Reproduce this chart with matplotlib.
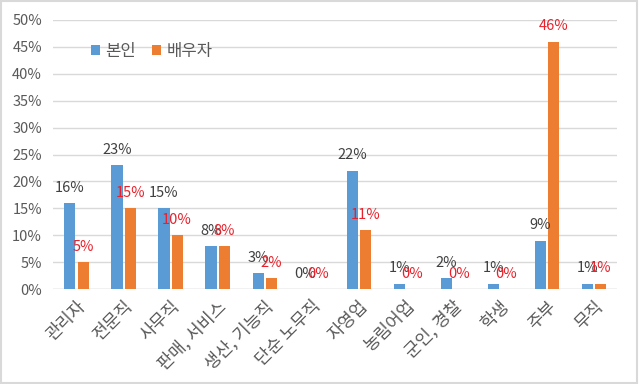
import matplotlib
matplotlib.use("Agg")
import matplotlib.pyplot as plt
import numpy as np
from matplotlib.patches import Rectangle

plt.rcParams['font.family'] = ['Noto Sans CJK KR', 'DejaVu Sans']

categories = ['관리자', '전문직', '사무직', '판매, 서비스', '생산, 기능직', '단순 노무직',
              '자영업', '농림어업', '군인, 경찰', '학생', '주부', '무직']
self_vals = [16, 23, 15, 8, 3, 0, 22, 1, 2, 1, 9, 1]
spouse_vals = [5, 15, 10, 8, 2, 0, 11, 0, 0, 0, 46, 1]
series_names = ['본인', '배우자']
yticks = [0, 5, 10, 15, 20, 25, 30, 35, 40, 45, 50]

blue = '#5b9bd5'
orange = '#ed7d31'

fig = plt.figure(figsize=(6.39, 3.84), dpi=100)
fig.patches.append(Rectangle((0.002, 0.003), 0.995, 0.994, transform=fig.transFigure,
                             fill=False, edgecolor='#d9d9d9', linewidth=1.5))
ax = fig.add_axes([0.083, 0.247, 0.883, 0.701])

x = np.arange(len(categories))
w = 0.235
off = 0.14
ax.bar(x - off, self_vals, w, color=blue, label=series_names[0], zorder=3)
ax.bar(x + off, spouse_vals, w, color=orange, label=series_names[1], zorder=3)

for xi, v in zip(x, self_vals):
    ax.annotate(f'{v}%', (xi - off, v), xytext=(0, 6), textcoords='offset points',
                ha='center', va='bottom', fontsize=10.5, color='#404040', zorder=4)
for xi, v in zip(x, spouse_vals):
    ax.annotate(f'{v}%', (xi + off, v), xytext=(0, 6), textcoords='offset points',
                ha='center', va='bottom', fontsize=10.5, color='#e8212b', zorder=5)

ax.set_xlim(-0.5, len(categories) - 0.5)
ax.set_ylim(0, 50)
ax.set_yticks(yticks)
ax.set_yticklabels([f'{t}%' for t in yticks])
ax.yaxis.grid(True, color='#d9d9d9', linewidth=1, zorder=0)
ax.set_xticks(x)
ax.set_xticklabels(categories, rotation=45, ha='right', rotation_mode='anchor')
ax.tick_params(axis='y', length=0, labelsize=10.5, colors='#595959', pad=8)
ax.tick_params(axis='x', length=0, labelsize=12.5, colors='#595959', pad=6)
for s in ax.spines.values():
    s.set_visible(False)
ax.axhline(0, color='#d9d9d9', linewidth=1, zorder=2)

leg = ax.legend(loc='upper left', bbox_to_anchor=(0.04, 0.97), ncol=2, frameon=False,
                fontsize=12, handlelength=0.55, handleheight=0.55, handletextpad=0.3,
                columnspacing=1.0)
for t in leg.get_texts():
    t.set_color('#595959')

fig.savefig('out.png', dpi=100)
